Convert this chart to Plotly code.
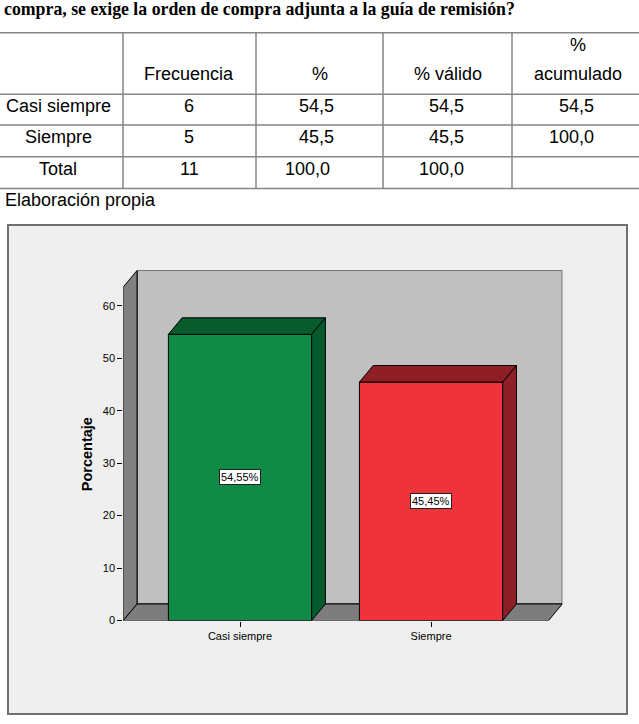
import plotly.graph_objects as go

# ---------------- data ----------------
title_text = "compra, se exige la orden de compra adjunta a la guía de remisión?"
categories = ["Casi siempre", "Siempre"]
frecuencia = [6, 5]
porcentaje = [54.5, 45.5]
porc_valido = [54.5, 45.5]
porc_acum = [54.5, 100.0]
total_freq = 11
total_pct = 100.0
total_valido = 100.0
bar_pct = [54.55, 45.45]
y_ticks = [0, 10, 20, 30, 40, 50, 60]
source_text = "Elaboración propia"

# ---------------- helpers ----------------
W, H = 639, 724


def px(x):
    return x / W


def py(y):
    return 1 - y / H


def fmt(v):
    return f"{v:.1f}".replace(".", ",")


SANS = "Liberation Sans, Arial, sans-serif"
SERIF = "Liberation Serif, Times New Roman, serif"

fig = go.Figure()

shapes = []
annotations = []

# Title
annotations.append(dict(x=px(2), y=py(9.5), xref="paper", yref="paper", text="<b>" + title_text + "</b>",
                        showarrow=False, xanchor="left", yanchor="middle",
                        font=dict(family=SERIF, size=17.8, color="black")))

# Table lines
line_col = "#858585"
for yy in [33, 95, 126, 158, 190]:
    shapes.append(dict(type="line", xref="paper", yref="paper", x0=0, x1=1, y0=py(yy), y1=py(yy),
                       line=dict(color=line_col, width=1.5)))
for xx in [123, 256, 383, 512]:
    shapes.append(dict(type="line", xref="paper", yref="paper", x0=px(xx), x1=px(xx), y0=py(33), y1=py(190),
                       line=dict(color=line_col, width=1.5)))


def cell(text, x, y, anchor="center"):
    annotations.append(dict(x=px(x), y=py(y), xref="paper", yref="paper", text=text, showarrow=False,
                            xanchor=anchor, yanchor="middle",
                            font=dict(family=SANS, size=18, color="black")))


# header
cell("Frecuencia", 189, 75)
cell("%", 320, 75)
cell("% válido", 448, 75)
cell("%", 578, 45)
cell("acumulado", 578, 75)

row_y = [107, 138]
for i, cat in enumerate(categories):
    cell(cat, 58, row_y[i])
    cell(str(frecuencia[i]), 189, row_y[i])
    cell(fmt(porcentaje[i]), 336, row_y[i], "right")
    cell(fmt(porc_valido[i]), 466, row_y[i], "right")
    cell(fmt(porc_acum[i]), 596, row_y[i], "right")
cell("Total", 58, 170)
cell(str(total_freq), 189, 170)
cell(fmt(total_pct), 332, 170, "right")
cell(fmt(total_valido), 466, 170, "right")

# source
annotations.append(dict(x=px(3), y=py(202), xref="paper", yref="paper", text=source_text, showarrow=False,
                        xanchor="left", yanchor="middle", font=dict(family=SANS, size=18, color="black")))

# Chart frame
shapes.append(dict(type="rect", xref="paper", yref="paper", x0=px(8), x1=px(627), y0=py(720), y1=py(227),
                   line=dict(color="#707070", width=2), fillcolor="#efefef", layer="below"))

# ---------------- 3D-ish bar chart ----------------
xr = [-0.611, 1.687]
yr = [0, 66.73]
dx, dy = 0.072, 3.15
bw = 0.75
edge = dict(color="black", width=1)

# back wall
shapes.append(dict(type="rect", xref="x", yref="y", x0=xr[0] + dx, x1=xr[1], y0=dy, y1=yr[1],
                   fillcolor="#c0c0c0", line=edge, layer="below"))
# left wall
shapes.append(dict(type="path", xref="x", yref="y",
                   path=f"M {xr[0]},0 L {xr[0]},{yr[1]-dy} L {xr[0]+dx},{yr[1]} L {xr[0]+dx},{dy} Z",
                   fillcolor="#808080", line=edge, layer="below"))
# floor
shapes.append(dict(type="path", xref="x", yref="y",
                   path=f"M {xr[0]},0 L {xr[1]-dx},0 L {xr[1]},{dy} L {xr[0]+dx},{dy} Z",
                   fillcolor="#7d7d7d", line=edge, layer="below"))

front_cols = ["#0f8a47", "#ee333b"]
dark_cols = ["#065a2c", "#8e1f25"]

fig.add_trace(go.Bar(x=[0, 1], y=bar_pct, width=bw, marker=dict(color=front_cols, line=edge),
                     hoverinfo="skip", showlegend=False))

for i, v in enumerate(bar_pct):
    x0, x1 = i - bw / 2, i + bw / 2
    # top face
    shapes.append(dict(type="path", xref="x", yref="y",
                       path=f"M {x0},{v} L {x1},{v} L {x1+dx},{v+dy} L {x0+dx},{v+dy} Z",
                       fillcolor=dark_cols[i], line=edge, layer="above"))
    # side face
    shapes.append(dict(type="path", xref="x", yref="y",
                       path=f"M {x1},0 L {x1},{v} L {x1+dx},{v+dy} L {x1+dx},{dy} Z",
                       fillcolor=dark_cols[i], line=edge, layer="above"))
    annotations.append(dict(x=i, y=v / 2, xref="x", yref="y",
                            text=f"{v:.2f}".replace(".", ",") + "%", showarrow=False,
                            bgcolor="white", bordercolor="#222", borderwidth=1, borderpad=1,
                            font=dict(family=SANS, size=11, color="black")))

# y-axis title
annotations.append(dict(x=px(87), y=py(458), xref="paper", yref="paper", text="<b>Porcentaje</b>",
                        showarrow=False, textangle=-90, xanchor="center", yanchor="middle",
                        font=dict(family=SANS, size=14.5, color="black")))

fig.update_layout(
    width=W, height=H,
    margin=dict(l=0, r=0, t=0, b=0),
    paper_bgcolor="white",
    plot_bgcolor="rgba(0,0,0,0)",
    shapes=shapes,
    annotations=annotations,
    showlegend=False,
    xaxis=dict(domain=[px(123.3), px(562.3)], range=xr, tickvals=[0, 1], ticktext=categories,
               ticks="outside", ticklen=5, tickcolor="black", tickwidth=1,
               showgrid=False, zeroline=False, showline=False,
               tickfont=dict(family=SANS, size=11, color="black")),
    yaxis=dict(domain=[py(625.7), py(272.7)], range=yr, tickvals=y_ticks,
               ticks="outside", ticklen=5, tickcolor="black", tickwidth=1,
               showgrid=False, zeroline=False, showline=False,
               tickfont=dict(family=SANS, size=11, color="black")),
)

fig.write_html("out.html")
